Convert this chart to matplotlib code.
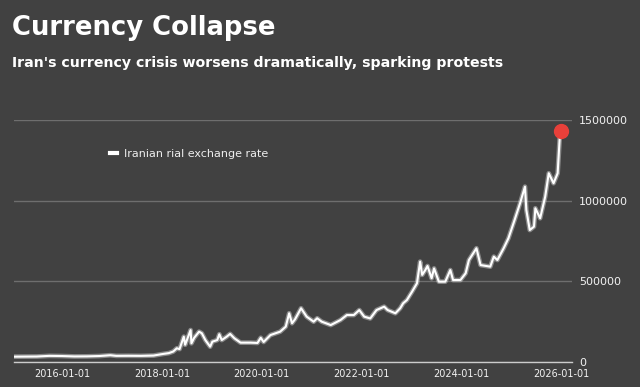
import matplotlib
matplotlib.use("Agg")
import matplotlib.pyplot as plt
import numpy as np
import pandas as pd

# rial per USD
dates = [
    "2015-01-15", "2015-04-01", "2015-07-01", "2015-10-01", "2016-01-01",
    "2016-04-01", "2016-07-01", "2016-10-01", "2016-12-20", "2017-02-01",
    "2017-05-01", "2017-08-01", "2017-11-01", "2018-01-10", "2018-02-20",
    "2018-03-25", "2018-04-20", "2018-05-10", "2018-06-10", "2018-06-20",
    "2018-07-30", "2018-08-05", "2018-08-25", "2018-09-30", "2018-10-20",
    "2018-11-15", "2018-12-20", "2019-01-05", "2019-02-10", "2019-02-25",
    "2019-03-15", "2019-04-20", "2019-05-15", "2019-06-15", "2019-07-30",
    "2019-10-10", "2019-12-01", "2019-12-25", "2020-01-15", "2020-03-05",
    "2020-05-15", "2020-06-25", "2020-07-20", "2020-08-10", "2020-09-01",
    "2020-10-15", "2020-11-25", "2021-01-15", "2021-02-10", "2021-03-15",
    "2021-05-20", "2021-07-30", "2021-09-15", "2021-11-05", "2021-12-15",
    "2022-01-20", "2022-03-05", "2022-04-20", "2022-06-15", "2022-07-10",
    "2022-09-05", "2022-10-10", "2022-11-01", "2022-11-28", "2023-01-05",
    "2023-02-10", "2023-03-05", "2023-03-20", "2023-04-12", "2023-04-28",
    "2023-05-28", "2023-06-15", "2023-07-20", "2023-09-05", "2023-10-12",
    "2023-11-01", "2023-12-25", "2024-02-01", "2024-02-25", "2024-04-20",
    "2024-05-20", "2024-07-30", "2024-08-25", "2024-09-20", "2024-11-05",
    "2024-12-10", "2025-01-20", "2025-03-05", "2025-04-10", "2025-04-20",
    "2025-05-15", "2025-06-15", "2025-06-25", "2025-07-30", "2025-09-05",
    "2025-10-01", "2025-11-05", "2025-12-05", "2025-12-20", "2025-12-31",
]
rates = [
    33000, 33500, 34000, 38000, 37000,
    34500, 35000, 37000, 42000, 38000,
    38500, 38000, 40000, 50000, 55000,
    65000, 85000, 80000, 157000, 107000,
    198000, 116000, 150000, 188000, 178000,
    136000, 95000, 126000, 136000, 172000,
    136000, 157000, 174000, 147000, 120000,
    120000, 118000, 150000, 124000, 167000,
    188000, 219000, 302000, 240000, 265000,
    333000, 281000, 250000, 271000, 250000,
    229000, 260000, 291000, 291000, 322000,
    281000, 270000, 322000, 343000, 322000,
    302000, 333000, 364000, 384000, 436000,
    488000, 622000, 540000, 570000, 595000,
    519000, 580000, 498000, 498000, 570000,
    508000, 508000, 550000, 632000, 705000,
    601000, 591000, 653000, 632000, 705000,
    767000, 870000, 984000, 1087000, 942000,
    818000, 839000, 953000, 891000, 1025000,
    1170000, 1108000, 1170000, 1387000, 1432000,
]
yticks = [0, 500000, 1000000, 1500000]
xticks = ["2016-01-01", "2018-01-01", "2020-01-01", "2022-01-01", "2024-01-01", "2026-01-01"]

bg = "#414141"
x = pd.to_datetime(dates)

fig = plt.figure(figsize=(6.4, 3.87), dpi=100, facecolor=bg)
ax = fig.add_axes([14/640, 1-362/387, (572-14)/640, (362-120)/387])
ax.set_facecolor(bg)

ax.plot(x, rates, color="#cfcfcf", lw=3.4, alpha=0.5, solid_joinstyle="round")
ax.plot(x, rates, color="white", lw=1.5, solid_joinstyle="round",
        label="Iranian rial exchange rate")
ax.plot(x[-1], rates[-1], "o", color="#e8403a", ms=10, clip_on=False, zorder=5)

ax.set_ylim(0, 1500000)
ax.set_xlim(pd.Timestamp("2015-01-15"), pd.Timestamp("2026-03-20"))
ax.set_yticks(yticks)
ax.set_yticklabels([str(v) for v in yticks])
ax.set_xticks(pd.to_datetime(xticks))
ax.set_xticklabels(xticks)
ax.yaxis.tick_right()
ax.tick_params(axis="y", length=0, pad=5, labelsize=8, labelcolor="#f2f2f2")
ax.tick_params(axis="x", length=0, pad=5, labelsize=7, labelcolor="#f2f2f2")
ax.grid(axis="y", color="#6e6e6e", lw=1)
ax.grid(axis="x", visible=False)
for s in ["top", "left", "right"]:
    ax.spines[s].set_visible(False)
ax.spines["bottom"].set_color("#cccccc")
ax.spines["bottom"].set_linewidth(1)

leg = ax.legend(loc="upper left", bbox_to_anchor=(0.155, 0.92), frameon=False,
                fontsize=8, handlelength=0.6, handletextpad=0.6, labelcolor="#eeeeee")
leg.get_lines()[0].set_linewidth(3)

fig.text(12/640, 1-35/387, "Currency Collapse", color="white", fontsize=18.6,
         fontweight="bold", va="baseline")
fig.text(12/640, 1-67/387, "Iran's currency crisis worsens dramatically, sparking protests",
         color="white", fontsize=10.2, fontweight="bold", va="baseline")

fig.savefig("out.png", dpi=100, facecolor=bg)
